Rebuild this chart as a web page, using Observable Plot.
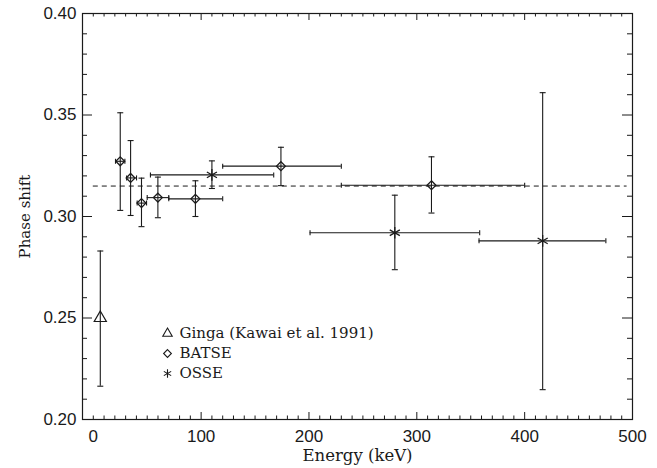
<!DOCTYPE html>
<html>
<head>
<meta charset="utf-8">
<script src="https://cdn.jsdelivr.net/npm/d3@7"></script>
<script src="https://cdn.jsdelivr.net/npm/@observablehq/plot@0.6"></script>
<style>
  html, body { margin: 0; padding: 0; background: #fff; }
  #chart svg { display: block; }
</style>
</head>
<body>
<div id="chart"></div>
<script>
// ---- Data ----
const gingaEnergy = [6.5];
const gingaPhase  = [0.250];
const gingaLo     = [0.2164];
const gingaHi     = [0.2830];

const batseEnergy = [25.0, 34.6, 44.7, 59.9, 94.7, 174.0, 313.6];
const batsePhase  = [0.3272, 0.3190, 0.3066, 0.3093, 0.3087, 0.3248, 0.3154];
const batseLo     = [0.3030, 0.3005, 0.2950, 0.2994, 0.3000, 0.3152, 0.3017];
const batseHi     = [0.3511, 0.3374, 0.3189, 0.3194, 0.3176, 0.3341, 0.3294];
const batseElo    = [20.6, 30.9, 40.7, 50.0, 70.0, 120.0, 230.0];
const batseEhi    = [29.3, 40.1, 49.4, 70.0, 120.0, 230.0, 400.0];

const osseEnergy = [110.0, 279.6, 416.7];
const ossePhase  = [0.3205, 0.2920, 0.2880];
const osseLo     = [0.3138, 0.2738, 0.2147];
const osseHi     = [0.3274, 0.3105, 0.3610];
const osseElo    = [53.0, 201.0, 357.7];
const osseEhi    = [167.3, 358.3, 475.3];

const meanPhase = 0.315;
const meanRange = [0, 495];

const xTickLabels = [0, 100, 200, 300, 400, 500];
const yTickLabels = [0.20, 0.25, 0.30, 0.35, 0.40];
const xMajorTicks = [100, 200, 300, 400];
const xMinorTicks = d3.range(0, 500, 10).filter(v => v % 100 !== 0 || v === 0);
const yMajorTicks = [0.25, 0.30, 0.35];
const yMinorTicks = d3.range(21, 40).filter(v => v % 5 !== 0).map(v => v / 100);

const legendLabels = ["Ginga (Kawai et al. 1991)", "BATSE", "OSSE"];
const legendSymbols = ["triangle", "diamond2", "asterisk"];

// ---- Build tables ----
const toRows = (E, P, lo, hi, elo, ehi) =>
  E.map((e, i) => ({e, p: P[i], lo: lo[i], hi: hi[i], elo: elo ? elo[i] : null, ehi: ehi ? ehi[i] : null}));
const ginga = toRows(gingaEnergy, gingaPhase, gingaLo, gingaHi);
const batse = toRows(batseEnergy, batsePhase, batseLo, batseHi, batseElo, batseEhi);
const osse  = toRows(osseEnergy, ossePhase, osseLo, osseHi, osseElo, osseEhi);
const allRows = [...ginga, ...batse, ...osse];
const hRows = [...batse, ...osse];

// cap symbols
const hcap = {draw(ctx, size) { const r = Math.sqrt(size / Math.PI); ctx.moveTo(-r, 0); ctx.lineTo(r, 0); }};
const vcap = {draw(ctx, size) { const r = Math.sqrt(size / Math.PI); ctx.moveTo(0, -r); ctx.lineTo(0, r); }};

const W = 657, H = 468;
const mT = 13, mR = 25, mB = 49, mL = 82;
const plotH = H - mT - mB;
const plotW = W - mL - mR;
const ink = "#1a1a1a";
const serif = "'DejaVu Serif', 'Liberation Serif', serif";
const sans = "'Liberation Sans', Arial, sans-serif";

const legendMarks = legendLabels.flatMap((label, i) => [
  Plot.dot([label], {frameAnchor: "top-left", dx: 85, dy: 320 + 20 * i, symbol: legendSymbols[i],
    r: i === 2 ? 4 : 3.5, stroke: ink, strokeWidth: 1.1, fill: "none"}),
  Plot.text([label], {frameAnchor: "top-left", dx: 97, dy: 320 + 20 * i, textAnchor: "start", lineAnchor: "middle",
    fontFamily: serif, fontSize: 15, fill: ink})
]);

const chart = Plot.plot({
  width: W,
  height: H,
  marginTop: mT, marginRight: mR, marginBottom: mB, marginLeft: mL,
  style: {fontFamily: sans, background: "#fff", color: ink},
  x: {domain: [-10, 500], axis: null},
  y: {domain: [0.2, 0.4], axis: null},
  marks: [
    // tick labels
    Plot.axisX({ticks: xTickLabels, tickSize: 0, tickPadding: 10, fontSize: 17, label: null, tickFormat: d => String(d)}),
    Plot.axisY({ticks: yTickLabels, tickSize: 0, tickPadding: 6, fontSize: 17, label: null, tickFormat: d3.format(".2f")}),
    // inward ticks: bottom / top
    Plot.ruleX(xMajorTicks, {x: d => d, insetTop: plotH - 7, stroke: ink}),
    Plot.ruleX(xMajorTicks, {x: d => d, insetBottom: plotH - 7, stroke: ink}),
    Plot.ruleX(xMinorTicks, {x: d => d, insetTop: plotH - 3.5, stroke: ink}),
    Plot.ruleX(xMinorTicks, {x: d => d, insetBottom: plotH - 3.5, stroke: ink}),
    // inward ticks: left / right
    Plot.ruleY(yMajorTicks, {y: d => d, insetRight: plotW - 10, stroke: ink}),
    Plot.ruleY(yMajorTicks, {y: d => d, insetLeft: plotW - 10, stroke: ink}),
    Plot.ruleY(yMinorTicks, {y: d => d, insetRight: plotW - 5, stroke: ink}),
    Plot.ruleY(yMinorTicks, {y: d => d, insetLeft: plotW - 5, stroke: ink}),
    Plot.frame({stroke: ink, strokeWidth: 1.2}),
    // mean dashed line
    Plot.ruleY([meanPhase], {x1: meanRange[0], x2: meanRange[1], stroke: ink, strokeDasharray: "5,4", strokeWidth: 1}),
    // vertical error bars
    Plot.ruleX(allRows, {x: "e", y1: "lo", y2: "hi", stroke: ink, strokeWidth: 1.1}),
    Plot.dot(allRows, {x: "e", y: "lo", symbol: hcap, r: 3, stroke: ink, strokeWidth: 1.1}),
    Plot.dot(allRows, {x: "e", y: "hi", symbol: hcap, r: 3, stroke: ink, strokeWidth: 1.1}),
    // horizontal error bars
    Plot.ruleY(hRows, {y: "p", x1: "elo", x2: "ehi", stroke: ink, strokeWidth: 1.1}),
    Plot.dot(hRows, {x: "elo", y: "p", symbol: vcap, r: 2.5, stroke: ink, strokeWidth: 1.1}),
    Plot.dot(hRows, {x: "ehi", y: "p", symbol: vcap, r: 2.5, stroke: ink, strokeWidth: 1.1}),
    // markers
    Plot.dot(ginga, {x: "e", y: "p", symbol: "triangle", r: 4.5, stroke: ink, strokeWidth: 1.2, fill: "none"}),
    Plot.dot(batse, {x: "e", y: "p", symbol: "diamond2", r: 4, stroke: ink, strokeWidth: 1.3, fill: "none"}),
    Plot.dot(osse, {x: "e", y: "p", symbol: "asterisk", r: 5.5, stroke: ink, strokeWidth: 1.3}),
    // legend
    ...legendMarks,
    // axis titles
    Plot.text(["Energy (keV)"], {frameAnchor: "bottom", dy: 36, textAnchor: "middle", lineAnchor: "middle",
      fontFamily: serif, fontSize: 16.5, fill: ink}),
    Plot.text(["Phase shift"], {frameAnchor: "left", dx: -57, rotate: -90, textAnchor: "middle", lineAnchor: "middle",
      fontFamily: serif, fontSize: 15, fill: ink})
  ]
});
document.getElementById("chart").appendChild(chart);
</script>
</body>
</html>
